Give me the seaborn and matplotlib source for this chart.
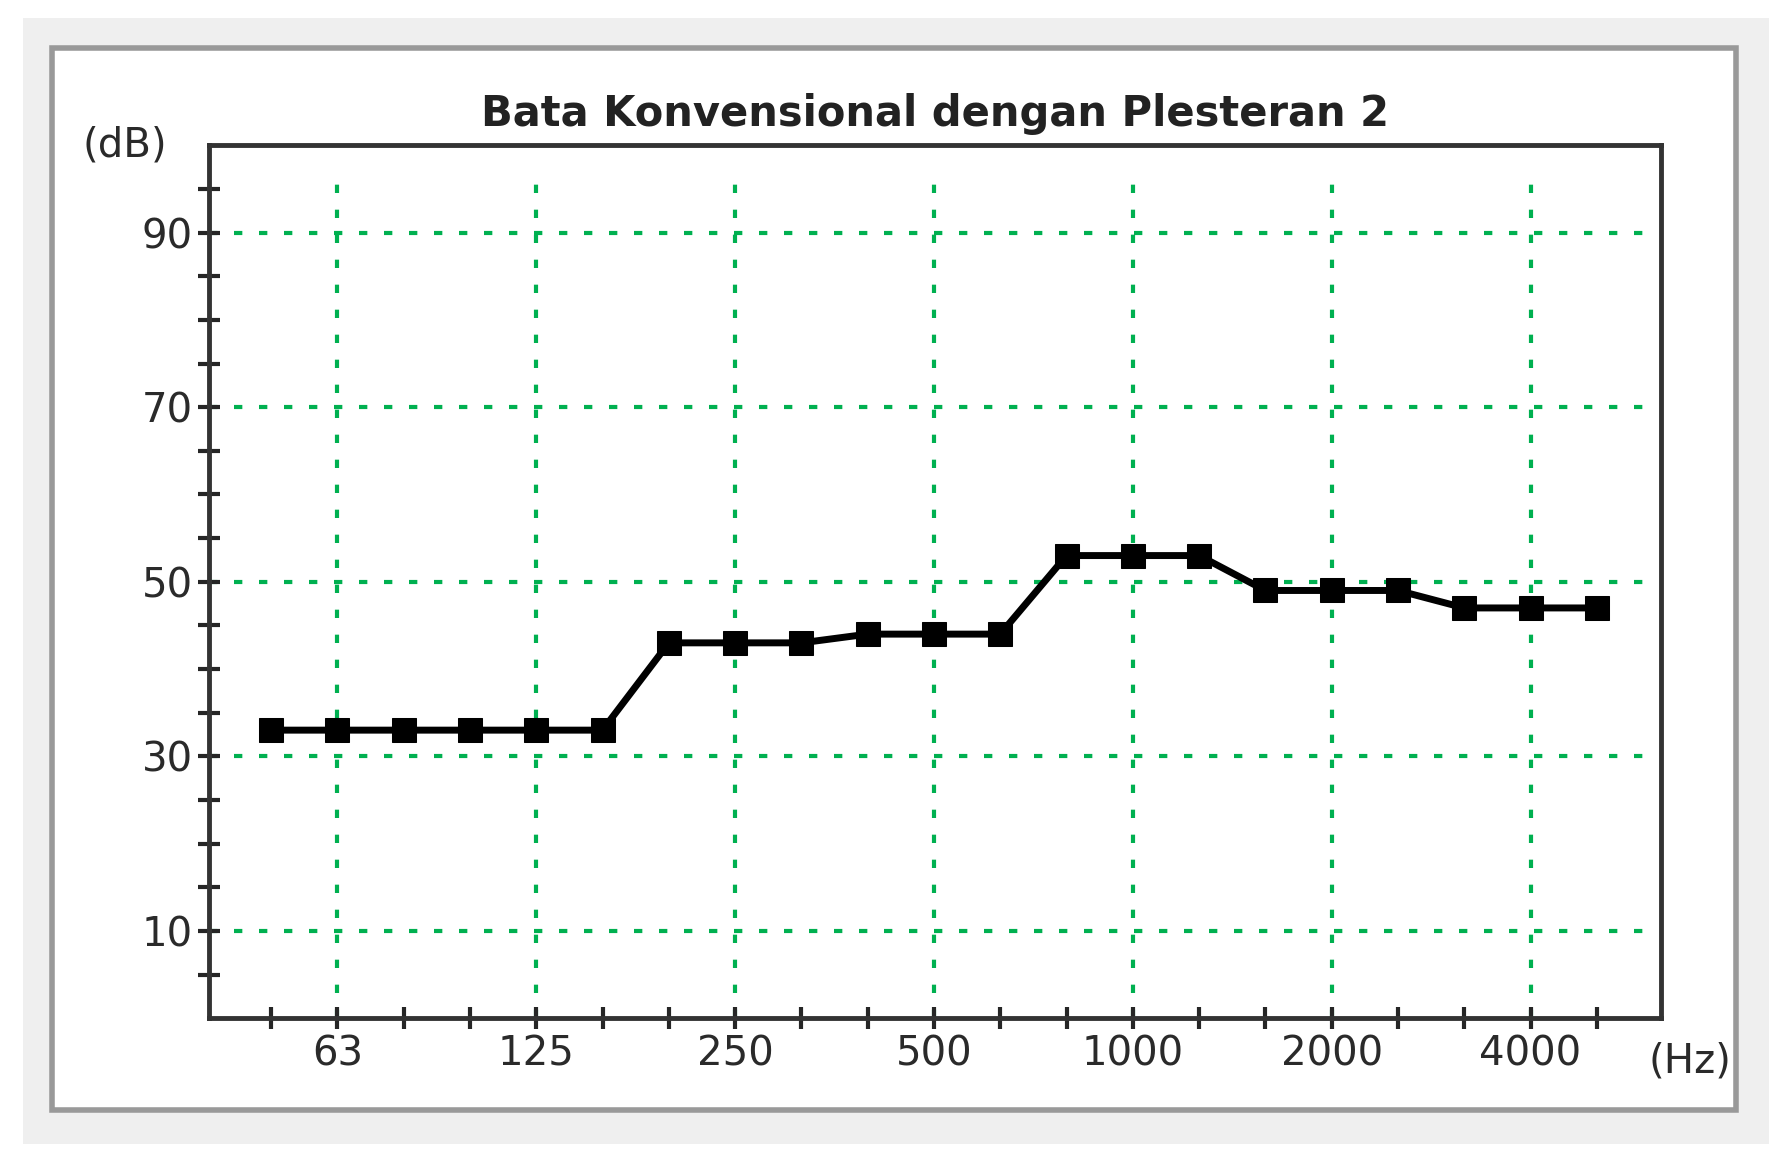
import numpy as np
import seaborn as sns
import matplotlib.pyplot as plt
from matplotlib.patches import Rectangle

sns.set_style("white")
plt.rcParams['font.family'] = ['DejaVu Sans']

# 1/3 octave bands 50 Hz .. 5000 Hz
bands = ['50', '63', '80', '100', '125', '160', '200', '250', '315', '400', '500',
         '630', '800', '1000', '1250', '1600', '2000', '2500', '3150', '4000', '5000']
tl_db = [33, 33, 33, 33, 33, 33, 43, 43, 43, 44, 44,
         44, 53, 53, 53, 49, 49, 49, 47, 47, 47]
label_bands = ['63', '125', '250', '500', '1000', '2000', '4000']
y_labels = [10, 30, 50, 70, 90]

fig = plt.figure(figsize=(17.9, 11.67), dpi=100)
fig.patches.append(Rectangle((0.013, 0.02), 0.975, 0.965, transform=fig.transFigure,
                             facecolor='#efefef', edgecolor='none', zorder=-3))
fig.patches.append(Rectangle((0.029, 0.049), 0.941, 0.91, transform=fig.transFigure,
                             facecolor='white', edgecolor='#999999', linewidth=4, zorder=-2))

ax = fig.add_axes([0.117, 0.1275, 0.811, 0.748])
x = np.arange(len(bands))
sns.lineplot(x=x, y=tl_db, ax=ax, color='black', linewidth=5, marker='s',
             markersize=17, markeredgecolor='black')

ax.set_xlim(-0.93, 20.97)
ax.set_ylim(0, 100)

for i, b in enumerate(bands):
    if b in label_bands:
        ax.axvline(i, ymin=0, ymax=0.965, color='#00b050', linestyle=(0, (2, 4)), linewidth=3, zorder=0)
for yv in y_labels:
    ax.axhline(yv, xmin=0, xmax=0.99, color='#00b050', linestyle=(0, (2, 4)), linewidth=3, zorder=0)

ax.set_xticks(x)
ax.set_xticklabels([b if b in label_bands else '' for b in bands])
ax.set_yticks(np.arange(5, 100, 5))
ax.set_yticklabels([str(v) if v in y_labels else '' for v in range(5, 100, 5)])
ax.tick_params(axis='both', direction='inout', length=16, width=3, labelsize=29,
               labelcolor='#2a2a2a', pad=4, bottom=True, left=True)
for s in ax.spines.values():
    s.set_linewidth(3.5)
    s.set_color('#333333')

ax.set_title('Bata Konvensional dengan Plesteran 2', fontsize=30, fontweight='bold',
             color='#222222', pad=14)
ax.text(-0.058, 1.0, '(dB)', transform=ax.transAxes, fontsize=29, color='#2a2a2a',
        ha='center', va='center')
ax.text(1.02, -0.05, '(Hz)', transform=ax.transAxes, fontsize=29, color='#2a2a2a',
        ha='center', va='center')

fig.savefig('out.png', dpi=100)
